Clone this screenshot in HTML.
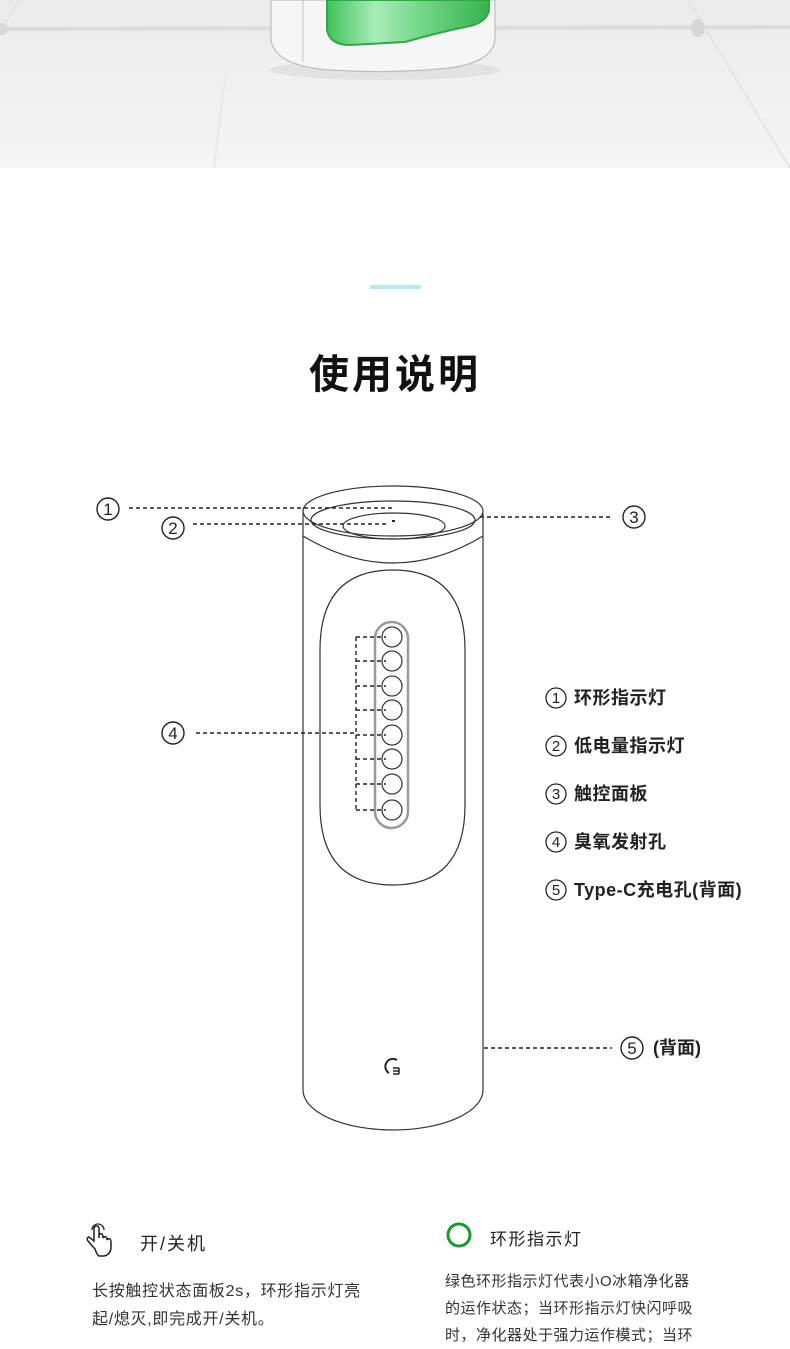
<!DOCTYPE html>
<html><head><meta charset="utf-8">
<style>
html,body{margin:0;padding:0;background:#fff;}
body{width:790px;height:1349px;position:relative;overflow:hidden;font-family:"Liberation Sans","Noto Sans CJK SC",sans-serif;color:#222;}
.t{position:absolute;white-space:nowrap;}
</style></head><body>
<svg width="790" height="168" style="position:absolute;left:0;top:0">
<defs>
<linearGradient id="bg" x1="0" y1="0" x2="0" y2="1"><stop offset="0" stop-color="#ebebeb"/><stop offset="1" stop-color="#f5f5f5"/></linearGradient>
<linearGradient id="gr" x1="0" y1="0" x2="1" y2="0"><stop offset="0" stop-color="#3fc25a"/><stop offset="0.3" stop-color="#a8ecb8"/><stop offset="0.6" stop-color="#6fd685"/><stop offset="1" stop-color="#37b24f"/></linearGradient>
</defs>
<rect width="790" height="168" fill="url(#bg)"/>
<line x1="0" y1="29" x2="790" y2="27" stroke="#dcdcdc" stroke-width="4"/>
<line x1="20" y1="0" x2="0" y2="30" stroke="#e2e2e2" stroke-width="2"/>
<line x1="225" y1="78" x2="214" y2="168" stroke="#e8e8e8" stroke-width="2"/>
<line x1="688" y1="0" x2="790" y2="168" stroke="#e4e4e4" stroke-width="2"/>
<circle cx="2" cy="29" r="6" fill="#d8d8d8"/>
<ellipse cx="698" cy="28" rx="7" ry="9" fill="#d6d6d6"/>
<ellipse cx="385" cy="70" rx="115" ry="10" fill="#e2e2e2"/>
<path d="M271,0 L271,40 Q275,66 330,70 Q390,74 450,68 Q492,62 495,40 L495,0 Z" fill="#f6f6f6" stroke="#bdbdbd" stroke-width="1.2"/>
<line x1="303" y1="0" x2="303" y2="62" stroke="#c4c4c4"/>
<path d="M327,0 L327,30 Q330,45 350,45 L405,42 Q440,32 470,26 Q487,22 489,10 L489,0 Z" fill="url(#gr)" stroke="#2fa846" stroke-width="2"/>
</svg>

<div style="position:absolute;left:370px;top:285px;width:51px;height:4px;background:#b3ece6"></div>
<div class="t" style="left:0;width:790px;text-align:center;top:342px;font-size:40px;font-weight:bold;letter-spacing:3px;color:#111">使用说明</div>

<svg width="790" height="1349" style="position:absolute;left:0;top:0" font-family="Liberation Sans, Noto Sans CJK SC, sans-serif">
<g fill="none" stroke="#333" stroke-width="1.2">
<path d="M303,513 L303,1090 A90,40 0 0 0 483,1090 L483,513"/>
<ellipse cx="393" cy="511" rx="90" ry="25"/>
<ellipse cx="393" cy="520" rx="82" ry="19"/>
<path d="M303,536 Q393,590 483,536" />
<ellipse cx="394" cy="526" rx="51" ry="13"/>
<path d="M320,650 Q320,570 393,570 Q465,570 465,650 L465,805 Q465,885 393,885 Q320,885 320,805 Z"/>
<rect x="375" y="622" width="33" height="206" rx="16.5" stroke="#999" stroke-width="2.5"/>
<rect x="377" y="624" width="29" height="202" rx="14.5" stroke="#fff" stroke-width="1"/>
</g>
<g fill="#fff" stroke="#333" stroke-width="1.2">
<circle cx="392" cy="637" r="10"/><circle cx="392" cy="661" r="10"/><circle cx="392" cy="686" r="10"/><circle cx="392" cy="710" r="10"/>
<circle cx="392" cy="735" r="10"/><circle cx="392" cy="759" r="10"/><circle cx="392" cy="784" r="10"/><circle cx="392" cy="810" r="10"/>
</g>
<g fill="none" stroke="#222" stroke-width="1.4" stroke-dasharray="4,3">
<line x1="356" y1="637" x2="356" y2="810"/>
<line x1="356" y1="637" x2="386" y2="637"/><line x1="356" y1="661" x2="386" y2="661"/><line x1="356" y1="686" x2="386" y2="686"/><line x1="356" y1="710" x2="386" y2="710"/>
<line x1="356" y1="735" x2="386" y2="735"/><line x1="356" y1="759" x2="386" y2="759"/><line x1="356" y1="784" x2="386" y2="784"/><line x1="356" y1="810" x2="386" y2="810"/>
<line x1="196" y1="733" x2="356" y2="733"/>
<line x1="129" y1="508" x2="392" y2="508"/>
<line x1="193" y1="524" x2="388" y2="524"/>
<line x1="480" y1="517" x2="612" y2="517"/>
<line x1="484" y1="1048" x2="612" y2="1048"/>
</g>
<rect x="392" y="520" width="3" height="2" fill="#222"/>
<path d="M397,1060 A7,7 0 1 0 389,1073" fill="none" stroke="#222" stroke-width="2"/>
<path d="M393,1068 h6 M393,1071 h6 M393,1074 h6 M399,1068 v6" stroke="#222" stroke-width="1.5"/>
<g fill="none" stroke="#222" stroke-width="1.4">
<circle cx="108" cy="509" r="11"/><circle cx="173" cy="528" r="11"/><circle cx="634" cy="517" r="11"/>
<circle cx="173" cy="733" r="11"/><circle cx="632" cy="1048" r="11"/>
</g>
<g font-size="17" fill="#222" text-anchor="middle">
<text x="108" y="515">1</text><text x="173" y="534">2</text><text x="634" y="523">3</text><text x="173" y="739">4</text><text x="632" y="1054">5</text>
</g>
<text x="653" y="1054" font-size="18" font-weight="bold" fill="#222">(背面)</text>
<g fill="none" stroke="#222" stroke-width="1.3">
<circle cx="556" cy="698" r="10"/><circle cx="556" cy="746" r="10"/><circle cx="556" cy="794" r="10"/><circle cx="556" cy="842" r="10"/><circle cx="556" cy="890" r="10"/>
</g>
<g font-size="15" fill="#222" text-anchor="middle">
<text x="556" y="703">1</text><text x="556" y="751">2</text><text x="556" y="799">3</text><text x="556" y="847">4</text><text x="556" y="895">5</text>
</g>
<g font-size="18" font-weight="bold" fill="#222" letter-spacing="0.5">
<text x="574" y="704">环形指示灯</text>
<text x="574" y="752">低电量指示灯</text>
<text x="574" y="800">触控面板</text>
<text x="574" y="848">臭氧发射孔</text>
<text x="574" y="896">Type-C充电孔(背面)</text>
</g>
<path d="M95,1249 L88,1241 Q86,1238 89,1237 L94,1241 L94,1229 Q94,1226 97,1226 Q99,1226 99,1229 L99,1238 L99,1235 Q100,1233 102,1234 Q103,1235 103,1237 L103,1238 Q104,1236 106,1237 Q107,1238 107,1240 Q108,1238 110,1239 Q111,1240 111,1243 L111,1248 Q110,1255 104,1256 L99,1256 Q97,1255 95,1249 Z" fill="none" stroke="#222" stroke-width="1.5"/>
<path d="M92,1230 A6,6 0 0 1 104,1230" fill="none" stroke="#222" stroke-width="1.3"/>
<circle cx="459" cy="1235" r="11" fill="none" stroke="#1a9a2a" stroke-width="3"/>
</svg>

<div class="t" style="left:140px;top:1230px;font-size:18px;letter-spacing:2px;color:#222">开/关机</div>
<div class="t" style="left:490px;top:1225px;font-size:17px;letter-spacing:1.5px;color:#222">环形指示灯</div>
<div class="t" style="left:92px;top:1278px;font-size:16px;letter-spacing:0.7px;color:#333;line-height:28px">长按触控状态面板2s，环形指示灯亮<br>起/熄灭,即完成开/关机。</div>
<div class="t" style="left:445px;top:1268px;font-size:15px;letter-spacing:0.5px;color:#333;line-height:27px">绿色环形指示灯代表小O冰箱净化器<br>的运作状态；当环形指示灯快闪呼吸<br>时，净化器处于强力运作模式；当环</div>
</body></html>
